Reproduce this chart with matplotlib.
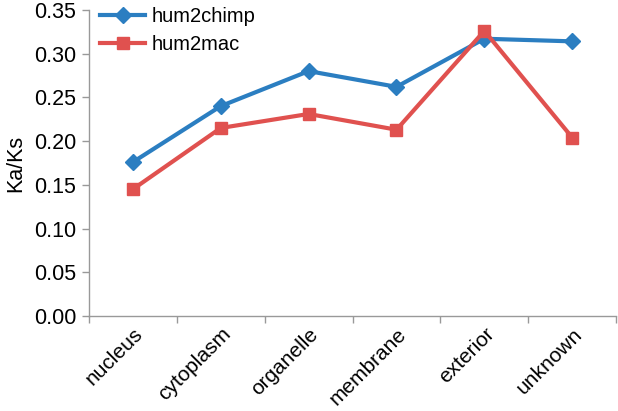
import matplotlib.pyplot as plt
import numpy as np

plt.rcParams['font.family'] = ['Liberation Sans', 'DejaVu Sans']

categories = ['nucleus', 'cytoplasm', 'organelle', 'membrane', 'exterior', 'unknown']
hum2chimp = [0.176, 0.240, 0.280, 0.262, 0.317, 0.314]
hum2mac = [0.145, 0.215, 0.231, 0.213, 0.326, 0.204]
yticks = [0.00, 0.05, 0.10, 0.15, 0.20, 0.25, 0.30, 0.35]

fig = plt.figure(figsize=(6.18, 4.11), dpi=100)
ax = fig.add_axes([0.144, 0.231, 0.853, 0.745])

x = np.arange(len(categories))
ax.plot(x, hum2chimp, color='#2B7EC1', lw=3, marker='D', markersize=8,
        label='hum2chimp', clip_on=False)
ax.plot(x, hum2mac, color='#E0514F', lw=3, marker='s', markersize=9,
        label='hum2mac', clip_on=False)

ax.set_xlim(-0.5, len(categories) - 0.5)
ax.set_ylim(0, 0.35)
ax.set_yticks(yticks)
ax.set_yticklabels([f'{v:.2f}' for v in yticks], fontsize=15.5)
ax.set_xticks(x)
ax.set_xticklabels(categories, fontsize=15, rotation=45, ha='right',
                   rotation_mode='anchor')
ax.set_xticks(np.arange(len(categories) + 1) - 0.5, minor=True)
ax.tick_params(axis='x', which='major', length=0, pad=6)
ax.tick_params(axis='x', which='minor', length=5, color='#999999', width=1)
ax.tick_params(axis='y', length=5, color='#999999', width=1, pad=4)
ax.set_ylabel('Ka/Ks', fontsize=15.5, labelpad=6)

for s in ['top', 'right']:
    ax.spines[s].set_visible(False)
for s in ['left', 'bottom']:
    ax.spines[s].set_color('#999999')
    ax.spines[s].set_linewidth(1)

ax.legend(loc='upper left', bbox_to_anchor=(-0.005, 1.055), frameon=False,
          fontsize=14.5, handlelength=2.2, handletextpad=0.35,
          labelspacing=0.45, borderaxespad=0.3)

plt.savefig('out.png', dpi=100)
